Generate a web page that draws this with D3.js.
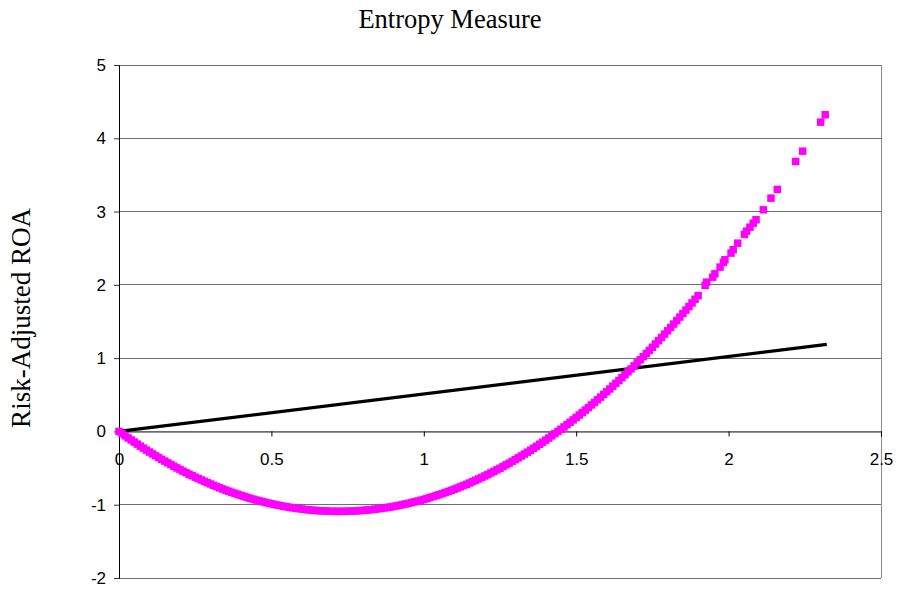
<!DOCTYPE html>
<html>
<head>
<meta charset="utf-8">
<script src="https://cdn.jsdelivr.net/npm/d3@7"></script>
<style>
  body { margin: 0; background: #fff; }
</style>
</head>
<body>
<svg id="chart" width="899" height="590"></svg>
<script>
// magenta series: entropy measure vs risk-adjusted ROA
const curveX = [
  0, 0.01, 0.02, 0.03, 0.04, 0.05, 0.06, 0.07, 0.08, 0.09,
  0.10, 0.11, 0.12, 0.13, 0.14, 0.15, 0.16, 0.17, 0.18, 0.19,
  0.20, 0.21, 0.22, 0.23, 0.24, 0.25, 0.26, 0.27, 0.28, 0.29,
  0.30, 0.31, 0.32, 0.33, 0.34, 0.35, 0.36, 0.37, 0.38, 0.39,
  0.40, 0.41, 0.42, 0.43, 0.44, 0.45, 0.46, 0.47, 0.48, 0.49,
  0.50, 0.51, 0.52, 0.53, 0.54, 0.55, 0.56, 0.57, 0.58, 0.59,
  0.60, 0.61, 0.62, 0.63, 0.64, 0.65, 0.66, 0.67, 0.68, 0.69,
  0.70, 0.71, 0.72, 0.73, 0.74, 0.75, 0.76, 0.77, 0.78, 0.79,
  0.80, 0.81, 0.82, 0.83, 0.84, 0.85, 0.86, 0.87, 0.88, 0.89,
  0.90, 0.91, 0.92, 0.93, 0.94, 0.95, 0.96, 0.97, 0.98, 0.99,
  1.00, 1.01, 1.02, 1.03, 1.04, 1.05, 1.06, 1.07, 1.08, 1.09,
  1.10, 1.11, 1.12, 1.13, 1.14, 1.15, 1.16, 1.17, 1.18, 1.19,
  1.20, 1.21, 1.22, 1.23, 1.24, 1.25, 1.26, 1.27, 1.28, 1.29,
  1.30, 1.31, 1.32, 1.33, 1.34, 1.35, 1.36, 1.37, 1.38, 1.39,
  1.40, 1.41, 1.42, 1.43, 1.44, 1.45, 1.46, 1.47, 1.48, 1.49,
  1.50, 1.51, 1.52, 1.53, 1.54, 1.55, 1.56, 1.57, 1.58, 1.59,
  1.60, 1.61, 1.62, 1.63, 1.64, 1.65, 1.66, 1.67, 1.68, 1.69,
  1.70, 1.71, 1.72, 1.73, 1.74, 1.75, 1.76, 1.77, 1.78, 1.79,
  1.80, 1.81, 1.82, 1.83, 1.84, 1.85, 1.86, 1.87, 1.88, 1.89,
  1.90,
  1.923, 1.928, 1.948, 1.955, 1.972, 1.983, 1.988, 2.008, 2.015, 2.030,
  2.052, 2.059, 2.070, 2.081, 2.090, 2.114, 2.139, 2.160, 2.220, 2.243,
  2.302, 2.317
];
const curveY = [
  0, -0.030, -0.060, -0.089, -0.117, -0.145, -0.173, -0.201, -0.228, -0.255,
  -0.281, -0.307, -0.332, -0.357, -0.381, -0.405, -0.429, -0.452, -0.475, -0.498,
  -0.520, -0.542, -0.563, -0.584, -0.604, -0.624, -0.643, -0.662, -0.681, -0.699,
  -0.717, -0.735, -0.752, -0.769, -0.785, -0.801, -0.816, -0.831, -0.845, -0.859,
  -0.873, -0.886, -0.899, -0.912, -0.924, -0.936, -0.947, -0.958, -0.968, -0.978,
  -0.987, -0.996, -1.005, -1.013, -1.021, -1.029, -1.036, -1.042, -1.048, -1.054,
  -1.059, -1.064, -1.069, -1.073, -1.077, -1.080, -1.083, -1.085, -1.087, -1.089,
  -1.090, -1.091, -1.091, -1.091, -1.090, -1.089, -1.088, -1.086, -1.083, -1.081,
  -1.078, -1.074, -1.070, -1.066, -1.061, -1.056, -1.050, -1.044, -1.038, -1.031,
  -1.024, -1.016, -1.008, -0.999, -0.990, -0.981, -0.971, -0.961, -0.950, -0.939,
  -0.928, -0.916, -0.903, -0.890, -0.877, -0.864, -0.850, -0.835, -0.820, -0.805,
  -0.789, -0.773, -0.756, -0.739, -0.722, -0.704, -0.686, -0.667, -0.648, -0.628,
  -0.608, -0.588, -0.567, -0.546, -0.524, -0.502, -0.479, -0.456, -0.433, -0.409,
  -0.385, -0.360, -0.335, -0.309, -0.283, -0.257, -0.230, -0.203, -0.175, -0.147,
  -0.119, -0.090, -0.060, -0.030, 0.000, 0.030, 0.061, 0.093, 0.125, 0.157,
  0.190, 0.224, 0.257, 0.291, 0.325, 0.361, 0.396, 0.432, 0.468, 0.505,
  0.541, 0.579, 0.617, 0.656, 0.694, 0.734, 0.773, 0.813, 0.853, 0.895,
  0.936, 0.978, 1.020, 1.063, 1.105, 1.149, 1.193, 1.238, 1.282, 1.328,
  1.373, 1.419, 1.465, 1.513, 1.560, 1.608, 1.656, 1.705, 1.753, 1.803,
  1.853,
  1.992, 2.037, 2.105, 2.151, 2.242, 2.306, 2.342, 2.433, 2.479, 2.569,
  2.688, 2.733, 2.787, 2.842, 2.888, 3.024, 3.183, 3.302, 3.683, 3.824,
  4.220, 4.321
];

// black series: straight line
const lineX = [0, 2.322];
const lineY = [0, 1.187];

const xTicks = [0, 0.5, 1, 1.5, 2, 2.5];
const yTicks = [-2, -1, 0, 1, 2, 3, 4, 5];

const svg = d3.select('#chart');
const width = +svg.attr('width');
const height = +svg.attr('height');
const margin = { top: 65, right: 18, bottom: 12, left: 119 };
const innerWidth = width - margin.left - margin.right;
const innerHeight = height - margin.top - margin.bottom;

const xScale = d3.scaleLinear().domain([0, 2.5]).range([0, innerWidth]);
const yScale = d3.scaleLinear().domain([-2, 5]).range([innerHeight, 0]);

const g = svg.append('g')
  .attr('transform', `translate(${margin.left},${margin.top})`);

// horizontal gridlines
g.selectAll('line.grid')
  .data(yTicks.filter(d => d !== 0))
  .enter()
  .append('line')
  .attr('class', 'grid')
  .attr('x1', 0)
  .attr('x2', innerWidth)
  .attr('y1', d => yScale(d))
  .attr('y2', d => yScale(d))
  .attr('stroke', '#6e6e6e')
  .attr('stroke-width', 1)
  .attr('shape-rendering', 'crispEdges');

// right border
g.append('line')
  .attr('x1', innerWidth).attr('x2', innerWidth)
  .attr('y1', 0).attr('y2', innerHeight)
  .attr('stroke', '#8a8a8a')
  .attr('shape-rendering', 'crispEdges');

// y axis (plain hyphen for negatives, like the original)
const yAxis = d3.axisLeft(yScale).tickValues(yTicks).tickSize(5).tickPadding(8)
  .tickFormat(d => String(d));
const yG = g.append('g').call(yAxis);
yG.select('.domain').attr('stroke', '#000');
yG.selectAll('.tick line').attr('stroke', '#333');
yG.selectAll('.tick text')
  .attr('font-family', 'Liberation Sans, Arial, sans-serif')
  .attr('font-size', '17px')
  .attr('fill', '#000');

// x axis sits at y = 0
const xAxis = d3.axisBottom(xScale).tickValues(xTicks).tickSize(5).tickPadding(17)
  .tickFormat(d => String(d));
const xG = g.append('g')
  .attr('transform', `translate(0,${yScale(0)})`)
  .call(xAxis);
xG.select('.domain').attr('stroke', '#000');
xG.selectAll('.tick line').attr('stroke', '#000');
xG.selectAll('.tick text')
  .attr('font-family', 'Liberation Sans, Arial, sans-serif')
  .attr('font-size', '17px')
  .attr('fill', '#000');

// black line series
const lineData = lineX.map((x, i) => ({ x, y: lineY[i] }));
g.append('path')
  .datum(lineData)
  .attr('d', d3.line().x(d => xScale(d.x)).y(d => yScale(d.y)))
  .attr('fill', 'none')
  .attr('stroke', '#000')
  .attr('stroke-width', 3.2);

// magenta square markers
const pts = curveX.map((x, i) => ({ x, y: curveY[i] }));
const s = 7.5;
g.selectAll('rect.pt')
  .data(pts)
  .enter()
  .append('rect')
  .attr('class', 'pt')
  .attr('x', d => xScale(d.x) - s / 2)
  .attr('y', d => yScale(d.y) - s / 2)
  .attr('width', s)
  .attr('height', s)
  .attr('fill', '#ff00ff');

// title
svg.append('text')
  .attr('x', 450)
  .attr('y', 28)
  .attr('text-anchor', 'middle')
  .attr('font-family', 'Liberation Serif, Times New Roman, serif')
  .attr('font-size', '26.5px')
  .attr('fill', '#000')
  .text('Entropy Measure');

// y axis title
svg.append('text')
  .attr('transform', 'translate(30,318) rotate(-90)')
  .attr('text-anchor', 'middle')
  .attr('font-family', 'Liberation Serif, Times New Roman, serif')
  .attr('font-size', '27px')
  .attr('fill', '#000')
  .text('Risk-Adjusted ROA');
</script>
</body>
</html>
